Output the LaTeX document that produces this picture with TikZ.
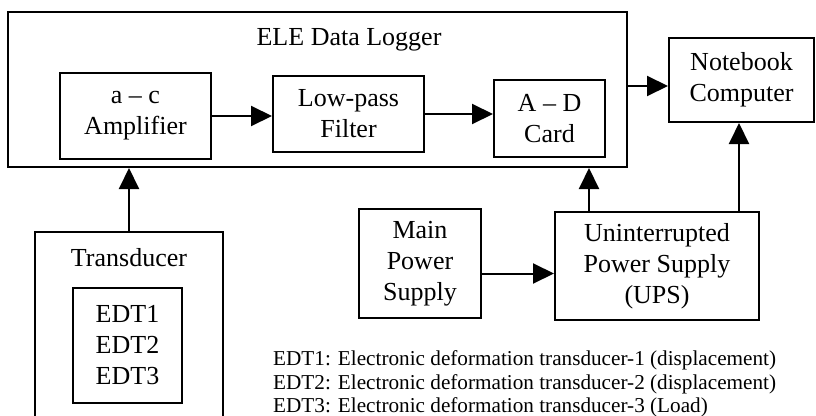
\documentclass[tikz,border=0pt]{standalone}
\usepackage{fontspec}
\setmainfont{Liberation Serif}
\usetikzlibrary{arrows.meta,calc}
\begin{document}
\begin{tikzpicture}[x=1pt,y=-1pt,
  box/.style={draw,line width=2pt,inner sep=0pt,align=center,font=\fontsize{26}{31}\selectfont},
  lbl/.style={inner sep=0pt,font=\fontsize{26}{31}\selectfont},
  leg/.style={inner sep=0pt,anchor=base west,font=\fontsize{21.2}{23.5}\selectfont},
  arr/.style={line width=2pt,-{Triangle[length=21pt,width=20pt]}}]
\useasboundingbox[fill=white] (0,0) rectangle (816,415);
% ELE data logger
\node[box,minimum width=619pt,minimum height=155pt] (ele) at (317.5,89.5) {};
\node[lbl] (elel) at (349,40) {ELE Data Logger};
\node[box,minimum width=151pt,minimum height=86pt] (amp) at (135.5,116) {a – c\\Amplifier};
\node[box,minimum width=151pt,minimum height=76pt] (lpf) at (348.5,114) {Low-pass\\Filter};
\node[box,minimum width=111pt,minimum height=77pt] (ad) at (549.5,118.5) {A – D\\Card};
\node[box,minimum width=145pt,minimum height=84pt] (nb) at (741.5,80) {Notebook\\Computer};
% transducer
\begin{scope}
\clip (0,0) rectangle (816,415);
\node[box,minimum width=188pt,minimum height=198pt] (tr) at (129,331) {};
\end{scope}
\node[lbl] (trl) at (129,258) {Transducer};
\node[box,minimum width=109pt,minimum height=115pt] (edt) at (127.5,345.5) {EDT1\\EDT2\\EDT3};
% power
\node[box,minimum width=122pt,minimum height=109pt] (mps) at (420,263.5) {Main\\Power\\Supply};
\node[box,minimum width=204pt,minimum height=108pt] (ups) at (657,266) {Uninterrupted\\Power Supply\\(UPS)};
% arrows
\draw[arr] (amp.east) -- (amp.east -| lpf.west);
\draw[arr] (lpf.east) -- (lpf.east -| ad.west);
\draw[arr] ([yshift=3.5pt]ele.east) -- ([yshift=3.5pt]ele.east -| nb.west);
\draw[arr] (tr.north) -- (tr.north |- ele.south);
\draw[arr] ([xshift=-68pt]ups.north) -- ([xshift=-68pt]ups.north |- ele.south);
\draw[arr] ([xshift=-2.5pt]nb.south |- ups.north) -- ([xshift=-2.5pt]nb.south);
\draw[arr] ([yshift=-10pt]mps.east) -- ([yshift=-10pt]mps.east -| ups.west);
% legend
\node[leg] (leg1) at (273,365) {EDT1: Electronic deformation transducer-1 (displacement)};
\node[leg] (leg2) at (273,389) {EDT2: Electronic deformation transducer-2 (displacement)};
\node[leg] (leg3) at (273,412) {EDT3: Electronic deformation transducer-3 (Load)};
\end{tikzpicture}
\end{document}
